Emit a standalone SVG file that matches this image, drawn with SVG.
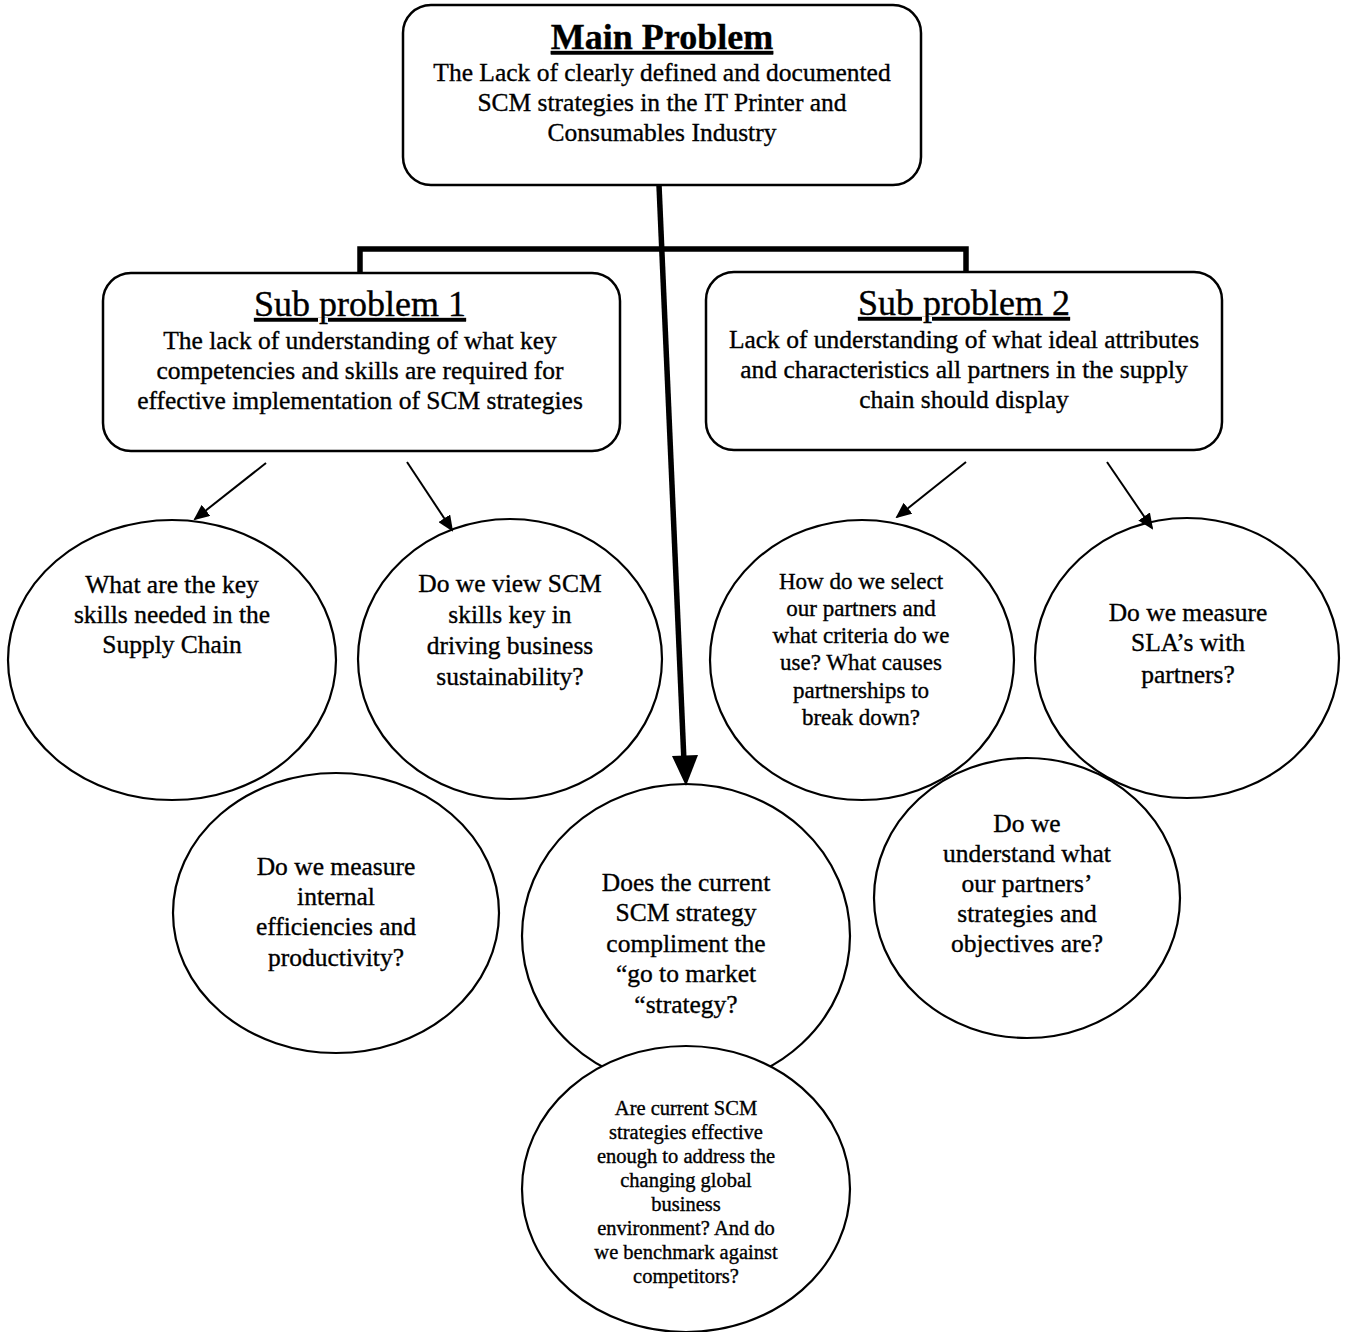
<svg xmlns="http://www.w3.org/2000/svg" width="1348" height="1332" viewBox="0 0 1348 1332">
  <style>
    text { font-family: "Liberation Serif", "Times New Roman", serif; fill: #000; stroke: #000; stroke-width: 0.35; text-anchor: middle; }
    .box { fill: #fff; stroke: #000; stroke-width: 2.5; }
    .bubble { fill: none; stroke: #000; stroke-width: 2.2; }
    .title { font-size: 36px; text-decoration: underline; }
    .body { font-size: 25.5px; }
    .q { font-size: 25.5px; }
    .qs { font-size: 23px; }
    .qxs { font-size: 20.5px; }
    .thick { fill: none; stroke: #000; stroke-width: 5.5; }
    .thin { fill: none; stroke: #000; stroke-width: 2; marker-end: url(#head); }
  </style>
  <defs>
    <marker id="head" markerWidth="16" markerHeight="14" refX="14" refY="7" orient="auto" markerUnits="userSpaceOnUse">
      <path d="M0,0 L16,7 L0,14 Z" fill="#000"/>
    </marker>
  </defs>

  <rect width="1348" height="1332" fill="#fff"/>

  <!-- connectors -->
  <g id="connectors">
    <path class="thick" d="M360,276 V249 H966 V274"/>
    <line class="thick" x1="659" y1="185" x2="684" y2="762"/>
    <polygon points="672,756 698,755 686,786" fill="#000"/>
    <line class="thin" x1="266" y1="463" x2="195" y2="519"/>
    <line class="thin" x1="407" y1="462" x2="452" y2="530"/>
    <line class="thin" x1="966" y1="462" x2="897" y2="517"/>
    <line class="thin" x1="1107" y1="462" x2="1152" y2="528"/>
  </g>

  <!-- main problem -->
  <g id="main-problem">
    <rect class="box" x="403" y="5" width="518" height="180" rx="28"/>
    <text class="title" x="662" y="49" font-weight="bold">Main Problem</text>
    <text class="body" x="662" y="81">The Lack of clearly defined and documented</text>
    <text class="body" x="662" y="111">SCM strategies in the IT Printer and</text>
    <text class="body" x="662" y="141">Consumables Industry</text>
  </g>

  <!-- sub problem 1 -->
  <g id="sub-problem-1">
    <rect class="box" x="103" y="273" width="517" height="178" rx="28"/>
    <text class="title" x="360" y="316">Sub problem 1</text>
    <text class="body" x="360" y="349">The lack of understanding of what key</text>
    <text class="body" x="360" y="379">competencies and skills are required for</text>
    <text class="body" x="360" y="409">effective implementation of SCM strategies</text>
  </g>

  <!-- sub problem 2 -->
  <g id="sub-problem-2">
    <rect class="box" x="706" y="272" width="516" height="178" rx="28"/>
    <text class="title" x="964" y="315">Sub problem 2</text>
    <text class="body" x="964" y="348">Lack of understanding of what ideal attributes</text>
    <text class="body" x="964" y="378">and characteristics all partners in the supply</text>
    <text class="body" x="964" y="408">chain should display</text>
  </g>

  <!-- question bubbles -->
  <g id="q-key-skills">
    <ellipse class="bubble" cx="172" cy="660" rx="164" ry="140"/>
    <text class="q" x="172" y="593">What are the key</text>
    <text class="q" x="172" y="623">skills needed in the</text>
    <text class="q" x="172" y="653">Supply Chain</text>
  </g>

  <g id="q-view-skills">
    <ellipse class="bubble" cx="510" cy="659" rx="152" ry="140"/>
    <text class="q" x="510" y="592">Do we view SCM</text>
    <text class="q" x="510" y="623">skills key in</text>
    <text class="q" x="510" y="654">driving business</text>
    <text class="q" x="510" y="685">sustainability?</text>
  </g>

  <g id="q-select-partners">
    <ellipse class="bubble" cx="862" cy="660" rx="152" ry="140"/>
    <text class="qs" x="861" y="589">How do we select</text>
    <text class="qs" x="861" y="616">our partners and</text>
    <text class="qs" x="861" y="643">what criteria do we</text>
    <text class="qs" x="861" y="670">use? What causes</text>
    <text class="qs" x="861" y="698">partnerships to</text>
    <text class="qs" x="861" y="725">break down?</text>
  </g>

  <g id="q-sla">
    <ellipse class="bubble" cx="1187" cy="658" rx="152" ry="140"/>
    <text class="q" x="1188" y="621">Do we measure</text>
    <text class="q" x="1188" y="651">SLA’s with</text>
    <text class="q" x="1188" y="683">partners?</text>
  </g>

  <g id="q-internal">
    <ellipse class="bubble" cx="336" cy="913" rx="163" ry="140"/>
    <text class="q" x="336" y="875">Do we measure</text>
    <text class="q" x="336" y="905">internal</text>
    <text class="q" x="336" y="935">efficiencies and</text>
    <text class="q" x="336" y="966">productivity?</text>
  </g>

  <g id="q-partner-strategies">
    <ellipse class="bubble" cx="1027" cy="898" rx="153" ry="140"/>
    <text class="q" x="1027" y="832">Do we</text>
    <text class="q" x="1027" y="862">understand what</text>
    <text class="q" x="1027" y="892">our partners’</text>
    <text class="q" x="1027" y="922">strategies and</text>
    <text class="q" x="1027" y="952">objectives are?</text>
  </g>

  <g id="q-go-to-market">
    <ellipse class="bubble" cx="686" cy="936" rx="164" ry="152"/>
    <text class="q" x="686" y="891">Does the current</text>
    <text class="q" x="686" y="921">SCM strategy</text>
    <text class="q" x="686" y="952">compliment the</text>
    <text class="q" x="686" y="982">“go to market</text>
    <text class="q" x="686" y="1013">“strategy?</text>
  </g>

  <g id="q-effectiveness">
    <ellipse cx="686" cy="1189" rx="164" ry="143" fill="#fff" stroke="#000" stroke-width="2.2"/>
    <text class="qxs" x="686" y="1115">Are current SCM</text>
    <text class="qxs" x="686" y="1139">strategies effective</text>
    <text class="qxs" x="686" y="1163">enough to address the</text>
    <text class="qxs" x="686" y="1187">changing global</text>
    <text class="qxs" x="686" y="1211">business</text>
    <text class="qxs" x="686" y="1235">environment? And do</text>
    <text class="qxs" x="686" y="1259">we benchmark against</text>
    <text class="qxs" x="686" y="1283">competitors?</text>
  </g>
</svg>
